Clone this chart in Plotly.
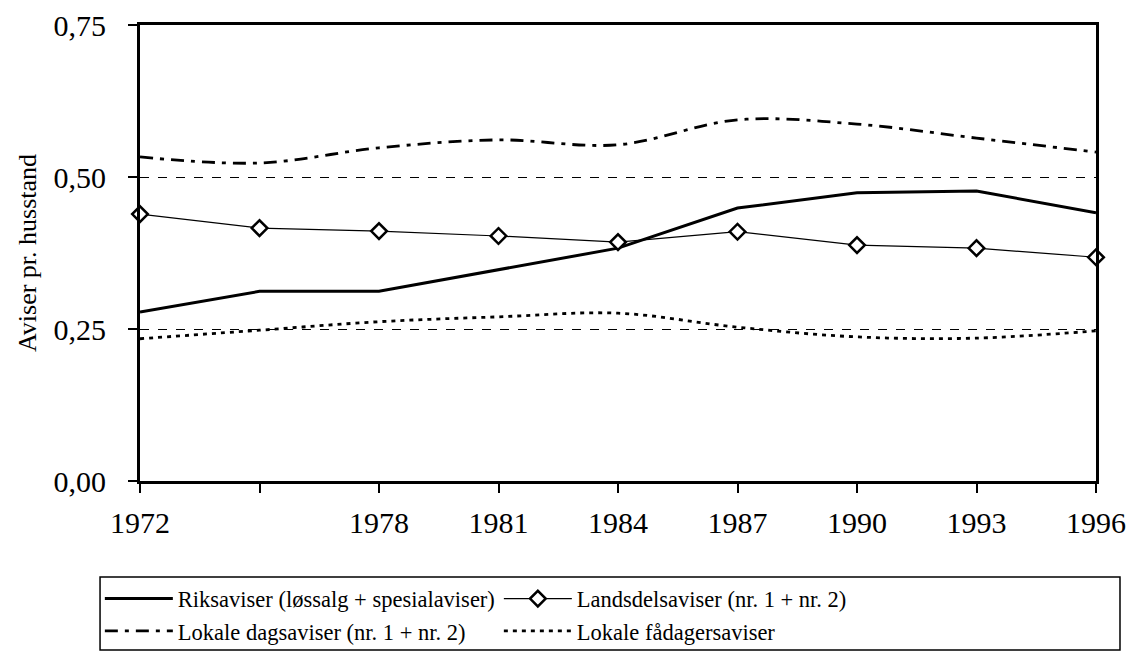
import plotly.graph_objects as go

years = [1972, 1975, 1978, 1981, 1984, 1987, 1990, 1993, 1996]
year_labels = ["1972", "", "1978", "1981", "1984", "1987", "1990", "1993", "1996"]

riksaviser = [0.278, 0.312, 0.312, 0.347, 0.383, 0.449, 0.474, 0.477, 0.441]
landsdelsaviser = [0.439, 0.416, 0.411, 0.403, 0.393, 0.410, 0.388, 0.383, 0.368]
lokale_dagsaviser = [0.533, 0.523, 0.548, 0.561, 0.553, 0.594, 0.587, 0.564, 0.541]
lokale_fadagers = [0.234, 0.248, 0.262, 0.270, 0.276, 0.253, 0.237, 0.235, 0.247]

y_ticks = [0, 0.25, 0.5, 0.75]
y_labels = ["0,00", "0,25", "0,50", "0,75"]

names = [
    "Riksaviser (løssalg + spesialaviser)",
    "Landsdelsaviser (nr. 1 + nr. 2)",
    "Lokale dagsaviser (nr. 1 + nr. 2)",
    "Lokale fådagersaviser",
]

FONT = "Liberation Serif, Times New Roman, serif"

fig = go.Figure()
fig.add_trace(go.Scatter(
    x=years, y=riksaviser, name=names[0], mode="lines",
    line=dict(color="black", width=3), cliponaxis=False))
fig.add_trace(go.Scatter(
    x=years, y=landsdelsaviser, name=names[1], mode="lines+markers",
    line=dict(color="black", width=1.2),
    marker=dict(symbol="diamond", size=12, color="white",
                line=dict(color="black", width=2.5)),
    cliponaxis=False))
fig.add_trace(go.Scatter(
    x=years, y=lokale_dagsaviser, name=names[2], mode="lines",
    line=dict(color="black", width=2.8, dash="13px,7px,4px,7px", shape="spline"),
    cliponaxis=False))
fig.add_trace(go.Scatter(
    x=years, y=lokale_fadagers, name=names[3], mode="lines",
    line=dict(color="black", width=2.8, dash="4px,5px", shape="spline"),
    cliponaxis=False))

# page body has an 8px margin, so compensate
fig.update_layout(
    width=1127, height=660,
    margin=dict(l=132, r=39, t=17, b=187, autoexpand=False),
    paper_bgcolor="white", plot_bgcolor="white",
    font=dict(family=FONT, color="black", size=24),
    legend=dict(
        orientation="h", x=-0.042, xanchor="left", y=-0.2116, yanchor="top",
        borderwidth=0, bgcolor="rgba(0,0,0,0)",
        entrywidth=316, entrywidthmode="pixels",
        font=dict(family=FONT, size=22.5, color="black"),
        tracegroupgap=0, itemwidth=68,
    ),
    showlegend=True,
    shapes=[dict(
        type="rect", xref="paper", yref="paper",
        x0=-0.0418, x1=1.0251, y0=-0.3706, y1=-0.2105,
        line=dict(color="black", width=1.5), fillcolor="rgba(0,0,0,0)",
        layer="below",
    )],
)

fig.update_xaxes(
    range=[1972, 1996], tickvals=years, ticktext=year_labels,
    showgrid=False, zeroline=False, automargin=False,
    showline=True, linecolor="black", linewidth=3, mirror=True,
    ticks="outside", ticklen=9, tickwidth=1.5, tickcolor="black",
    ticklabelstandoff=4,
    tickfont=dict(family=FONT, size=30, color="black"),
)
fig.update_yaxes(
    range=[0, 0.75], tickvals=y_ticks, ticktext=y_labels,
    showgrid=True, gridcolor="black", gridwidth=1, griddash="dash",
    zeroline=False, automargin=False,
    showline=True, linecolor="black", linewidth=3, mirror=True,
    ticks="outside", ticklen=9, tickwidth=1.5, tickcolor="black",
    ticklabelstandoff=16,
    tickfont=dict(family=FONT, size=30, color="black"),
    title=dict(text="Aviser pr. husstand", font=dict(family=FONT, size=26, color="black"), standoff=10),
)

fig.write_html("out.html")
